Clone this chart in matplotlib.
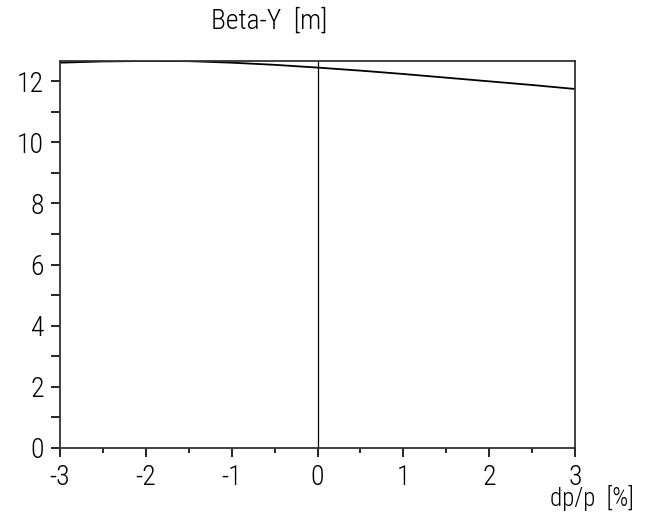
import matplotlib
matplotlib.use("Agg")
from matplotlib import pyplot as plt
from matplotlib import font_manager
from matplotlib.ticker import MultipleLocator

# pick a narrow, thin font if there is one
names = set(f.name for f in font_manager.fontManager.ttflist)
font = 'DejaVu Sans'
for cand in ['Liberation Sans Narrow', 'Roboto Condensed', 'Open Sans Condensed', 'Liberation Sans']:
    if cand in names:
        font = cand
        break
plt.rcParams['font.family'] = [font, 'DejaVu Sans']
plt.rcParams['font.weight'] = 'light'
plt.rcParams['axes.unicode_minus'] = False

dpp = [-3.0, -2.5, -2.0, -1.5, -1.0, -0.5, 0.0, 0.5, 1.0, 1.5, 2.0, 2.5, 3.0]
beta_y = [12.60, 12.64, 12.655, 12.65, 12.60, 12.53, 12.44, 12.34, 12.23, 12.11, 11.99, 11.87, 11.74]

fig = plt.figure(figsize=(6.49, 5.12), dpi=100)
ax = fig.add_axes([60/649, 1 - 448/512, 515/649, 387/512])

ax.plot(dpp, beta_y, color='black', lw=1.3)
ax.axvline(0, color='black', lw=0.9)

ax.set_xlim(-3, 3)
ax.set_ylim(0, 12.655)

ax.xaxis.set_major_locator(MultipleLocator(1))
ax.xaxis.set_minor_locator(MultipleLocator(0.5))
ax.yaxis.set_major_locator(MultipleLocator(2))
ax.yaxis.set_minor_locator(MultipleLocator(1))

ax.tick_params(axis='x', which='major', direction='out', length=6.2, width=1.2, pad=5, labelsize=20)
ax.tick_params(axis='x', which='minor', direction='out', length=3.6, width=1.2)
ax.tick_params(axis='y', which='both', direction='out', length=6.5, width=1.2, pad=5, labelsize=20)

for s in ax.spines.values():
    s.set_linewidth(1.3)
    s.set_color('#333333')

fig.text(269/649, 1 - 29/512, 'Beta-Y  [m]', ha='center', va='baseline', fontsize=20)
fig.text(550/649, 1 - 506/512, 'dp/p  [%]', ha='left', va='baseline', fontsize=18)

fig.savefig('out.png', dpi=100)
